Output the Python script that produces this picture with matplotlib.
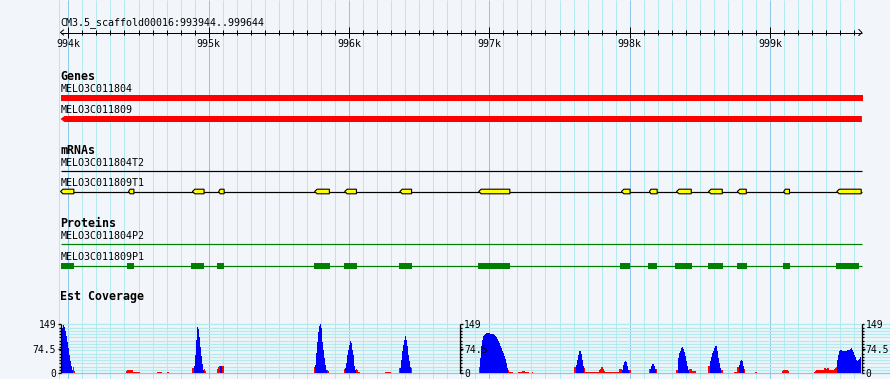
import matplotlib
matplotlib.use('Agg')
import matplotlib.pyplot as plt
from matplotlib.patches import Polygon, Rectangle
import numpy as np

# ── region shown ──
seq_name = "CM3.5_scaffold00016"
view_start, view_end = 993944, 999644
major_ticks = [994000, 995000, 996000, 997000, 998000, 999000]
major_labels = ["994k", "995k", "996k", "997k", "998k", "999k"]

# ── Genes ──
gene_names = ["MELO3C011804", "MELO3C011809"]
gene_starts = [993944, 993944]
gene_ends = [999660, 999655]
gene_strands = [1, -1]

# ── mRNAs ──
mrna_names = ["MELO3C011804T2", "MELO3C011809T1"]
exon_starts = [993944, 994429, 994884, 995071, 995755, 995969, 996362, 996924,
               997941, 998141, 998334, 998562, 998767, 999098, 999476]
exon_ends = [994039, 994467, 994967, 995110, 995860, 996053, 996446, 997146,
             998003, 998196, 998439, 998660, 998831, 999139, 999650]

# ── Proteins ──
protein_names = ["MELO3C011804P2", "MELO3C011809P1"]
cds_starts = [993944, 994419, 994876, 995062, 995748, 995962, 996355, 996919,
              997934, 998134, 998326, 998555, 998762, 999091, 999469]
cds_ends = [994041, 994469, 994969, 995112, 995862, 996055, 996448, 997148,
            998005, 998198, 998441, 998662, 998834, 999141, 999634]

# ── Est Coverage (bins of 7 bp) ──
cov_max = 149
cov_bin = 7
blue_starts = [993944, 994898, 995084, 995755, 995969, 996362, 996934,
               997619, 997948, 998148, 998341, 998569, 998776, 999480]
blue_values = [
    [124, 130, 137, 147, 140, 127, 112, 94, 75, 55, 36, 21, 9],
    [20, 55, 100, 140, 135, 110, 80, 52, 28, 10],
    [22, 22],
    [25, 60, 95, 125, 143, 149, 138, 118, 95, 70, 45, 25, 10],
    [15, 31, 54, 71, 87, 99, 92, 71, 54, 36, 20, 10],
    [15, 41, 66, 87, 102, 112, 102, 82, 56, 36, 17],
    [46, 82, 102, 112, 117, 120, 121, 122, 121, 122, 120, 120, 120, 119,
     117, 113, 109, 105, 99, 92, 84, 77, 68, 61, 53, 44, 31, 15],
    [25, 41, 54, 66, 68, 58, 41, 20],
    [10, 25, 34, 38, 34, 20, 10],
    [12, 22, 28, 28, 22, 12],
    [25, 46, 61, 68, 76, 80, 73, 63, 51, 36, 20, 10],
    [25, 36, 48, 61, 68, 76, 82, 83, 66, 46, 31, 15],
    [25, 38, 40, 40, 38, 20],
    [41, 56, 66, 69, 69, 68, 66, 66, 68, 66, 69, 71, 69, 74, 75, 69,
     63, 56, 48, 41, 38, 39, 44, 48],
]
red_starts = [994035, 994412, 994634, 994705, 994884, 994968, 995062, 995748,
              995846, 995962, 996053, 996255, 996355, 996439, 996927, 997130,
              997205, 997303, 997605, 997675, 997997, 998141, 998190, 998327,
              998425, 998555, 998653, 998741, 998818, 998893, 999084, 999312]
red_values = [
    [18, 5],
    [5, 10, 10, 10, 10, 10, 10, 4, 4, 4, 4, 4, 4, 4],
    [3, 3, 3, 3, 3],
    [3, 3],
    [14, 14],
    [12, 6],
    [12, 17, 20, 20, 20, 20, 20],
    [18],
    [10, 5],
    [12],
    [12, 8, 4, 4],
    [3, 3, 3, 3, 3, 3],
    [15],
    [15],
    [17],
    [10, 4, 4, 4, 4, 4],
    [3, 3, 3, 3, 5, 6, 5, 3, 3, 3, 3],
    [3],
    [18, 18],
    [15, 3, 3, 3, 3, 3, 3, 3, 3, 3, 3, 3, 3, 3, 3, 8, 13, 18, 18, 13, 5,
     3, 3, 3, 3, 3, 3, 3, 3, 3, 3, 3, 3, 3, 3, 3, 12, 12, 12],
    [10, 10],
    [12],
    [12],
    [10, 10],
    [13, 13, 13, 5, 5, 5, 5],
    [20, 20],
    [10, 10],
    [3, 3, 3, 18, 18],
    [12],
    [3, 3],
    [5, 10, 10, 10, 10, 10, 5],
    [4, 5, 8, 8, 8, 8, 10, 10, 10, 10, 15, 15, 13, 15, 15, 13, 10, 10, 10,
     8, 10, 12, 15, 18],
]

# ── look ──
BG = "#F2F5FA"
GRID_MINOR = "#B2EAF0"
GRID_MAJOR = "#90C6E8"
MONO = "DejaVu Sans Mono"
FS = 7.2
FS_BOLD = 8.4

W, H = 890, 379
px_per_bp = 800 / (view_end - view_start + 1)
BP = 1 / px_per_bp                    # bp per pixel
x_left = view_start - 60.5 * BP
x_right = x_left + W * BP
LW = 0.72                             # one pixel in points

fig = plt.figure(figsize=(W / 100, H / 100), dpi=100)
fig.patch.set_facecolor(BG)
ax = fig.add_axes([0, 0, 1, 1])
ax.set_facecolor(BG)
ax.set_xlim(x_left, x_right)
ax.set_ylim(H, 0)
ax.axis('off')


def txt(x, y, s, bold=False, ha='left', size=None):
    ax.text(x, y, s, family=MONO, fontsize=size or (FS_BOLD if bold else FS),
            fontweight='bold' if bold else 'normal', ha=ha, va='baseline',
            color='black')


# ── vertical grid ──
for pos in np.arange(994000, view_end, 100):
    c = GRID_MAJOR if pos % 1000 == 0 else GRID_MINOR
    ax.vlines(pos, 0, H, color=c, lw=LW, zorder=0)
ax.vlines(view_start - 1.2 * BP, 0, H, color=GRID_MINOR, lw=LW, zorder=0)

# ── ruler ──
txt(view_start, 25.3, f"{seq_name}:{view_start}..{view_end}")
ax.hlines(32.5, view_start, view_end + 1.5 * BP, color='black', lw=LW)
ax.plot([view_start + 3 * BP, view_start, view_start + 3 * BP], [30, 32.5, 35],
        color='black', lw=LW)
ax.plot([view_end - 1.5 * BP, view_end + 1.5 * BP, view_end - 1.5 * BP],
        [29.5, 32.5, 35.5], color='black', lw=LW)
for pos in np.arange(994000, view_end, 100):
    if pos % 1000 == 0:
        ax.vlines(pos, 27, 38, color='black', lw=LW)
    else:
        ax.vlines(pos, 30, 35, color='black', lw=LW)
for pos, lab in zip(major_ticks, major_labels):
    txt(pos, 46.7, lab, ha='center')

# ── Genes ──
txt(view_start, 80, "Genes", bold=True)
gene_label_y = [92.3, 113]
gene_bar_top = [95, 116]
for name, s, e, strand, ly, top in zip(gene_names, gene_starts, gene_ends,
                                        gene_strands, gene_label_y, gene_bar_top):
    txt(view_start, ly, name)
    if strand < 0:
        pts = [(s, top + 3), (s + 4 * BP, top), (e, top), (e, top + 6),
               (s + 4 * BP, top + 6)]
    else:
        pts = [(s, top), (e, top), (e, top + 6), (s, top + 6)]
    ax.add_patch(Polygon(pts, closed=True, facecolor='#FF0000', edgecolor='none'))

# ── mRNAs ──
txt(view_start, 154, "mRNAs", bold=True)
txt(view_start, 166, mrna_names[0])
ax.hlines(171.3, view_start, view_end + 2 * BP, color='black', lw=LW * 1.2)
txt(view_start, 186.3, mrna_names[1])
ax.hlines(191.5, view_start, view_end + 2 * BP, color='black', lw=LW * 1.2)
for s, e in zip(exon_starts, exon_ends):
    tip = 2.5 * BP if (e - s) * px_per_bp > 8 else 1.5 * BP
    pts = [(s, 191.5), (s + tip, 189.2), (e, 189.2), (e, 193.8), (s + tip, 193.8)]
    ax.add_patch(Polygon(pts, closed=True, facecolor='#FFFF00',
                         edgecolor='black', lw=LW * 1.1, zorder=3))

# ── Proteins ──
txt(view_start, 226.7, "Proteins", bold=True)
txt(view_start, 238.7, protein_names[0])
ax.hlines(244.3, view_start, view_end + 2 * BP, color='#008000', lw=LW * 1.2)
txt(view_start, 260, protein_names[1])
ax.hlines(265.5, view_start, view_end + 2 * BP, color='#008000', lw=LW * 1.2)
for s, e in zip(cds_starts, cds_ends):
    ax.add_patch(Rectangle((s, 262.8), e - s, 5.8, facecolor='#008000',
                           edgecolor='none', zorder=3))

# ── Est Coverage ──
txt(view_start, 300.3, "Est Coverage", bold=True)
cov_top, cov_zero = 324.3, 373.0
cov_scale = (cov_zero - cov_top) / cov_max
n_lines = 15
for i in range(n_lines + 1):
    y = cov_zero - i * (cov_zero - cov_top) / n_lines
    ax.hlines(y, view_start, x_right, color=GRID_MAJOR if i == 0 else GRID_MINOR,
              lw=LW * 1.3, zorder=1)

for s, vals in zip(red_starts, red_values):
    edges = s + np.arange(len(vals) + 1) * cov_bin
    ax.stairs(cov_zero - np.array(vals) * cov_scale, edges, baseline=cov_zero,
              fill=True, color='#FF0000', lw=0, zorder=2)
for s, vals in zip(blue_starts, blue_values):
    edges = s + np.arange(len(vals) + 1) * cov_bin
    ax.stairs(cov_zero - np.array(vals) * cov_scale, edges, baseline=cov_zero,
              fill=True, color='#0000FF', lw=0, zorder=3)

# coverage scales: left, middle, right
mid = (view_start + view_end) / 2
scale_pos = [(view_start, -1), (mid, 1), (view_end + 1.5 * BP, 1)]
for xa, side in scale_pos:
    ax.vlines(xa, cov_top, cov_zero, color='black', lw=LW * 1.3, zorder=4)
    for i in range(n_lines + 1):
        y = cov_zero - i * (cov_zero - cov_top) / n_lines
        ln = 2.5 if i in (0, n_lines) else 1.8
        ax.hlines(y, xa, xa + side * ln * BP, color='black', lw=LW * 1.3, zorder=4)
    ax.hlines((cov_top + cov_zero) / 2, xa, xa + side * 3 * BP, color='black',
              lw=LW * 1.3, zorder=4)
    for val, base in [("149", 328.3), ("74.5", 353.3), ("0", 376.7)]:
        if side < 0:
            txt(xa - 4.5 * BP, base, val, ha='right', size=7.0)
        else:
            txt(xa + 3.5 * BP, base, val, ha='left', size=7.0)

plt.savefig('out.png', dpi=100, facecolor=BG)
